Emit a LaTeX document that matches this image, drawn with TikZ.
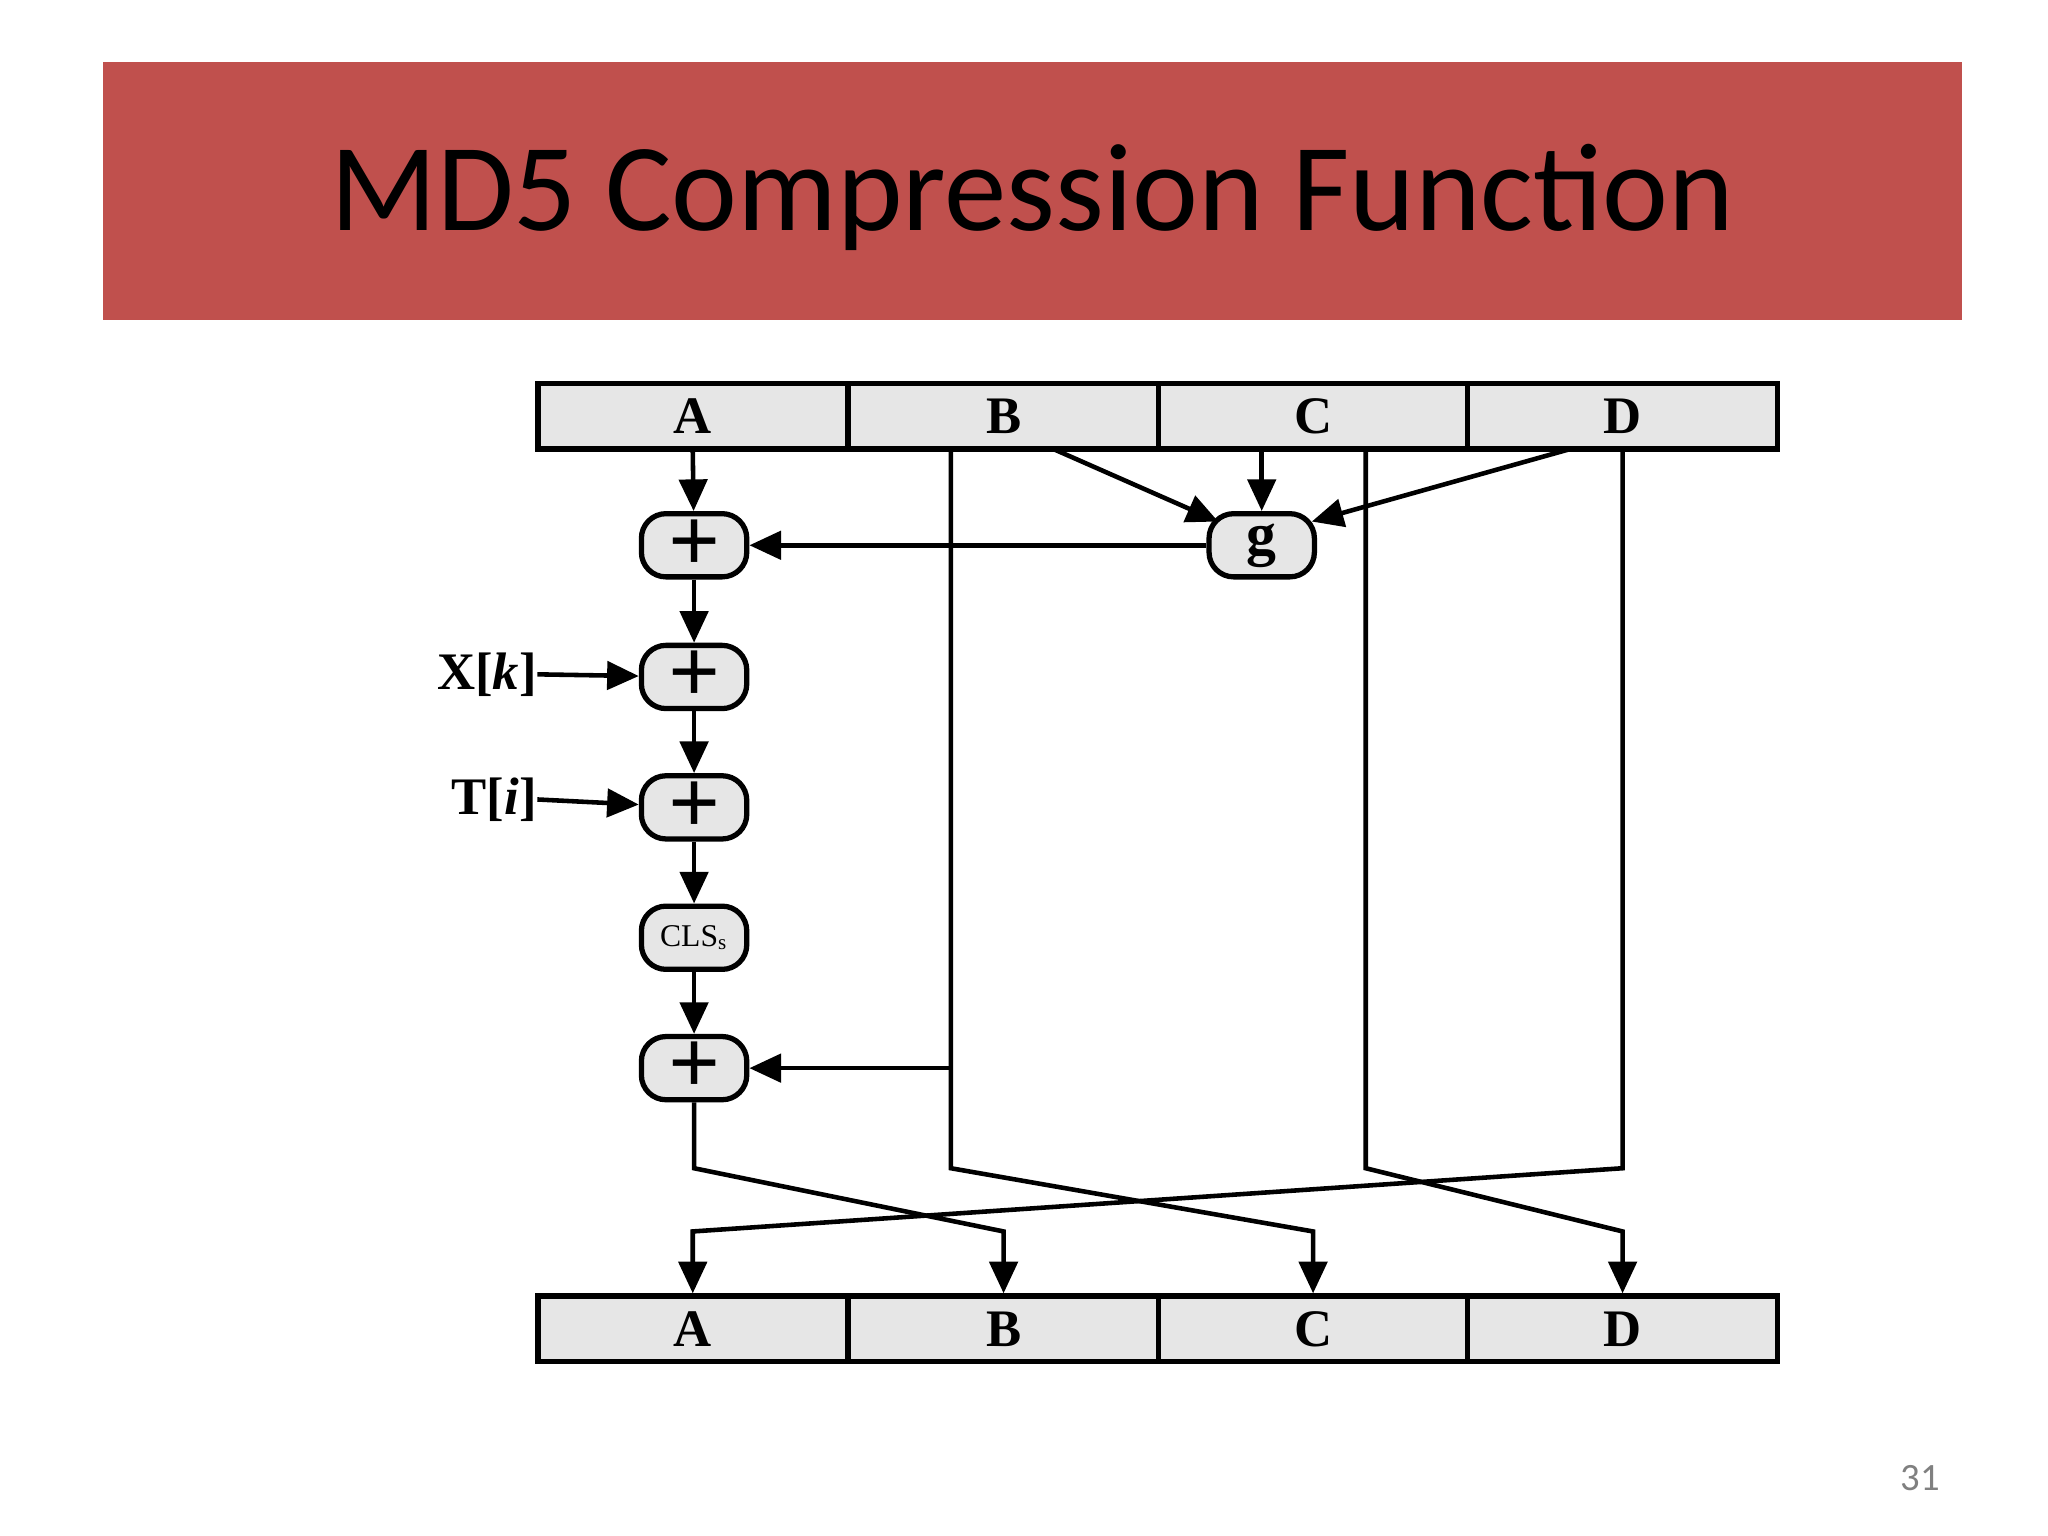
\documentclass[tikz,border=0pt]{standalone}
\usepackage{fontspec}
\setmainfont{Liberation Serif}
\newfontfamily\carl{Carlito}
\usetikzlibrary{arrows.meta}
\definecolor{banner}{HTML}{C0504D}
\definecolor{boxgray}{HTML}{E6E6E6}
\begin{document}
\begin{tikzpicture}[x=0.01317cm,y=-0.01317cm,
  ln/.style={line width=1.3pt},
  ar/.style={ln,-{Triangle[length=9pt,width=8pt]}},
  reg/.style={draw,line width=1.5pt,fill=boxgray,minimum width=235*0.01317cm,minimum height=50*0.01317cm,inner sep=0,font=\fontsize{15}{15}\bfseries},
  op/.style={draw,line width=1.5pt,fill=boxgray,rounded corners=7pt,minimum width=80*0.01317cm,minimum height=48*0.01317cm,inner sep=0},
  pl/.style={font=\fontsize{26}{26}\bfseries},
  lab/.style={font=\fontsize{15}{15}\bfseries,inner sep=0}]
\useasboundingbox (0,0) rectangle (1555,1166);
\fill[banner] (78,47) rectangle (1490,243);
\node (title) at (784,150) {\carl\fontsize{35.5}{36}\selectfont MD5 Compression Function};
\node[text=gray] (pg) at (1458,1122) {\carl\fontsize{11}{11}\selectfont 31};
% registers
\foreach \n/\x in {A/526,B/762,C/997,D/1232}{
  \node[reg] (t\n) at (\x,316) {\n};
  \node[reg] (b\n) at (\x,1009) {\n};
}
% ops
\node[op,pl] (p1) at (527,414) {+};
\node[op] (g) at (958,414) {\fontsize{17}{17}\bfseries g};
\node[op,pl] (p2) at (527,514) {+};
\node[op,pl] (p3) at (527,613) {+};
\node[op] (cls) at (527,712) {\fontsize{9}{9}\selectfont CLS\textsubscript{s}};
\node[op,pl] (p5) at (527,811) {+};
\node[lab,anchor=east] (xk) at (408,512) {X[\textit{k}]};
\node[lab,anchor=east] (ti) at (408,607) {T[\textit{i}]};
% connectors
\coordinate (bOut) at (800,341);
\coordinate (dOut) at (1192,341);
\coordinate (cOut) at (958,341);
\coordinate (gNW) at (925,396);
\coordinate (gNE) at (996,396);
\draw[ar] (tA.south) -- (p1);
\draw[ar] (p1) -- (p2);
\draw[ar] (p2) -- (p3);
\draw[ar] (p3) -- (cls);
\draw[ar] (cls) -- (p5);
\draw[ar] (xk.east) -- (p2);
\draw[ar] (ti.east) -- (p3);
\draw[ar] (g) -- (p1);
\draw[ar] (cOut) -- (g.north);
\draw[ar] (bOut) -- (gNW);
\draw[ar] (dOut) -- (gNE);
\coordinate (bb) at (722,811);
\draw[ar] (bb) -- (p5);
\draw[ar] (722,341) -- (bb) -- (722,887) -- (997,935) -- (bC.north);
\draw[ar] (1037,341) -- (1037,887) -- (1232,935) -- (bD.north);
\draw[ar] (1232,341) -- (1232,887) -- (526,935) -- (bA.north);
\draw[ar] (p5) -- (527,887) -- (762,935) -- (bB.north);
\end{tikzpicture}
\end{document}
